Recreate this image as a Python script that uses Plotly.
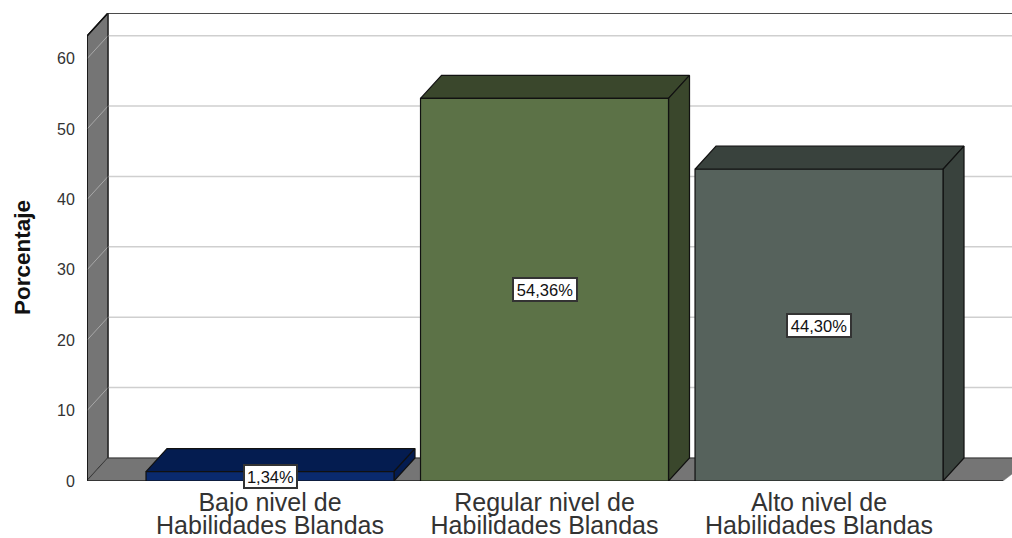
import plotly.graph_objects as go

categories = ["Bajo nivel de<br>Habilidades Blandas",
              "Regular nivel de<br>Habilidades Blandas",
              "Alto nivel de<br>Habilidades Blandas"]
values = [1.34, 54.36, 44.30]
labels = ["1,34%", "54,36%", "44,30%"]
label_widths = [51, 62, 62]
front_colors = ["#0a2a6e", "#5c7247", "#56625c"]
dark_colors = ["#041c50", "#3a472c", "#39423d"]
y_ticks = [0, 10, 20, 30, 40, 50, 60]

# pseudo 3d depth, in axis units
DX = 0.0765
DY = 3.27
BAR_W = 0.4517
X_MIN = -2 / 3
X_MAX = 2.703
FLOOR_END = 2.67
Y_MAX = 66.5
WALL_TOP = Y_MAX - DY


def poly(xs, ys, fill, line="#111111", width=1.2):
    return go.Scatter(x=xs + xs[:1], y=ys + ys[:1], mode="lines", fill="toself",
                      fillcolor=fill, line=dict(color=line, width=width), hoverinfo="skip")


fig = go.Figure()

# side wall and floor
fig.add_trace(poly([X_MIN, X_MIN + DX, X_MIN + DX, X_MIN], [0, DY, Y_MAX, WALL_TOP], "#757575"))
fig.add_trace(poly([X_MIN, X_MIN + DX, X_MAX + DX, FLOOR_END], [0, DY, DY, 0], "#757575", line="#757575", width=0.5))

# gridlines on the back wall, carried across the side wall
for t in y_ticks[1:]:
    fig.add_trace(go.Scatter(x=[X_MIN, X_MIN + DX], y=[t, t + DY], mode="lines",
                             line=dict(color="#a8a8a8", width=1), hoverinfo="skip"))
    fig.add_trace(go.Scatter(x=[X_MIN + DX, X_MAX], y=[t + DY, t + DY], mode="lines",
                             line=dict(color="#cfcfcf", width=1.5), hoverinfo="skip"))

# wall edges
fig.add_trace(go.Scatter(x=[X_MIN, X_MIN, X_MIN + DX, X_MAX], y=[0, WALL_TOP, Y_MAX, Y_MAX], mode="lines",
                         line=dict(color="#111111", width=1.5), hoverinfo="skip", cliponaxis=False))
fig.add_trace(go.Scatter(x=[X_MIN + DX, X_MIN + DX, X_MAX], y=[Y_MAX, DY, DY], mode="lines",
                         line=dict(color="#333333", width=1.2), hoverinfo="skip"))
fig.add_trace(go.Scatter(x=[X_MIN, FLOOR_END], y=[0, 0], mode="lines",
                         line=dict(color="#222222", width=1.5), hoverinfo="skip", cliponaxis=False))

# bars
for i, v in enumerate(values):
    l, r = i - BAR_W, i + BAR_W
    fig.add_trace(poly([l, r, r + DX, l + DX], [v, v, v + DY, v + DY], dark_colors[i]))
    fig.add_trace(poly([r, r + DX, r + DX, r], [0, DY, v + DY, v], dark_colors[i]))
    fig.add_trace(poly([l, r, r, l], [0, 0, v, v], front_colors[i]))
    fig.add_annotation(x=i, y=v / 2, text=labels[i], showarrow=False,
                       width=label_widths[i], height=21,
                       font=dict(family="Liberation Sans", size=16.5, color="#111111"),
                       bgcolor="white", bordercolor="#333333", borderwidth=2, borderpad=0)

# title placed by hand, the reference sits above the axis centre
fig.add_annotation(x=22 / 1012, y=280 / 538, xref="paper", yref="paper", text="<b>Porcentaje</b>",
                   xanchor="center", yanchor="middle",
                   textangle=-90, showarrow=False, font=dict(size=22.5, color="#111111"))

fig.update_layout(
    width=1012, height=538,
    margin=dict(l=0, r=0, t=0, b=0),
    paper_bgcolor="white", plot_bgcolor="white",
    showlegend=False,
    font=dict(family="Liberation Sans"),
    xaxis=dict(domain=[87 / 1012, 1], range=[X_MIN, X_MAX], tickmode="array", automargin=False,
               tickvals=[0, 1, 2],
               ticktext=['<span style="font-size:25px">' + c.replace("<br>", '</span><br><span style="font-size:25px">') + "</span>"
                         for c in categories],
               tickfont=dict(size=17, color="#333333"), showgrid=False, zeroline=False,
               ticks="outside", ticklen=9, tickcolor="rgba(0,0,0,0)"),
    yaxis=dict(domain=[57 / 538, 525 / 538], range=[0, Y_MAX], tickmode="array", automargin=False,
               tickvals=y_ticks, tickfont=dict(size=16, color="#333333"),
               showgrid=False, zeroline=False,
               ticks="outside", ticklen=8, tickcolor="rgba(0,0,0,0)"),
)

fig.write_html("out.html", config=dict(displayModeBar=False), post_script="document.body.style.margin='0';")
